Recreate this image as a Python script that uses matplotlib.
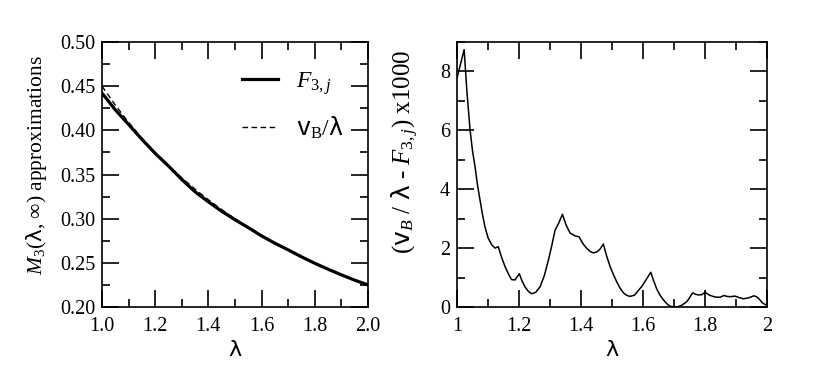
import matplotlib as mpl
mpl.use('Agg')
import matplotlib.pyplot as plt
from matplotlib.ticker import MultipleLocator, FormatStrFormatter
import numpy as np

plt.rcParams['font.family'] = ['Liberation Serif', 'DejaVu Serif']
plt.rcParams['mathtext.fontset'] = 'custom'
plt.rcParams['mathtext.rm'] = 'Liberation Serif'
plt.rcParams['mathtext.it'] = 'Liberation Serif:italic'
plt.rcParams['mathtext.sf'] = 'DejaVu Sans'

# left panel: M3 approximations
lam = [1.00, 1.05, 1.10, 1.15, 1.20, 1.25, 1.30, 1.35, 1.40, 1.45, 1.50,
       1.55, 1.60, 1.65, 1.70, 1.75, 1.80, 1.85, 1.90, 1.95, 2.00]
nu_over_lam = [0.4500, 0.4286, 0.4091, 0.3913, 0.3750, 0.3600, 0.3462, 0.3333,
               0.3214, 0.3103, 0.3000, 0.2903, 0.2813, 0.2727, 0.2647, 0.2571,
               0.2500, 0.2432, 0.2368, 0.2308, 0.2250]
f3j = [0.4422, 0.4233, 0.4067, 0.3898, 0.3739, 0.3596, 0.3444, 0.3304,
       0.3191, 0.3084, 0.2988, 0.2899, 0.2805, 0.2722, 0.2647, 0.2568,
       0.2495, 0.2428, 0.2364, 0.2304, 0.2250]

# right panel: difference x1000
d_lam = [1.000, 1.023, 1.032, 1.042, 1.050, 1.058, 1.066, 1.074, 1.082, 1.090,
         1.100, 1.112, 1.123, 1.133, 1.144, 1.155, 1.166, 1.176, 1.187, 1.201,
         1.210, 1.219, 1.230, 1.241, 1.254, 1.268, 1.282, 1.295, 1.306, 1.316,
         1.328, 1.340, 1.352, 1.365, 1.380, 1.394, 1.406, 1.418, 1.430, 1.440,
         1.451, 1.461, 1.472, 1.483, 1.494, 1.505, 1.515, 1.526, 1.537, 1.547,
         1.558, 1.572, 1.585, 1.596, 1.606, 1.625, 1.634, 1.644, 1.655, 1.666,
         1.677, 1.687, 1.700, 1.712, 1.725, 1.741, 1.750, 1.760, 1.770, 1.780,
         1.790, 1.800, 1.815, 1.832, 1.848, 1.861, 1.871, 1.881, 1.897, 1.910,
         1.924, 1.940, 1.958, 1.966, 1.975, 1.985, 2.000]
diff = [7.78, 8.74, 7.30, 6.02, 5.30, 4.77, 4.15, 3.64, 3.15, 2.73,
        2.35, 2.11, 2.00, 2.05, 1.68, 1.37, 1.12, 0.93, 0.92, 1.13,
        0.88, 0.69, 0.53, 0.45, 0.50, 0.69, 1.08, 1.60, 2.10, 2.60,
        2.85, 3.15, 2.78, 2.51, 2.42, 2.38, 2.15, 2.00, 1.88, 1.84,
        1.87, 1.96, 2.14, 1.72, 1.37, 1.09, 0.86, 0.64, 0.48, 0.40,
        0.36, 0.40, 0.56, 0.70, 0.86, 1.18, 0.90, 0.62, 0.40, 0.24,
        0.11, 0.03, 0.00, 0.01, 0.06, 0.18, 0.31, 0.48, 0.43, 0.41,
        0.42, 0.50, 0.40, 0.34, 0.33, 0.39, 0.36, 0.35, 0.37, 0.32,
        0.28, 0.31, 0.38, 0.35, 0.27, 0.14, 0.05]

fig = plt.figure(figsize=(8.17, 3.74), dpi=100)
ax1 = fig.add_axes([0.1248, 0.1791, 0.3256, 0.7086])
ax2 = fig.add_axes([0.5594, 0.1791, 0.3794, 0.7086])

ax1.plot(lam, f3j, '-', color='black', lw=2.3, label=r'$F_{3,j}$')
ax1.plot(lam, nu_over_lam, color='black', lw=1.0, linestyle=(0, (4, 2.5)),
         label=r'$\mathsf{v}_{\mathrm{B}}/\mathsf{\lambda}$')
ax1.set_xlim(1.0, 2.0)
ax1.set_ylim(0.20, 0.50)
ax1.xaxis.set_major_locator(MultipleLocator(0.2))
ax1.xaxis.set_minor_locator(MultipleLocator(0.1))
ax1.yaxis.set_major_locator(MultipleLocator(0.05))
ax1.yaxis.set_minor_locator(MultipleLocator(0.025))
ax1.xaxis.set_major_formatter(FormatStrFormatter('%.1f'))
ax1.yaxis.set_major_formatter(FormatStrFormatter('%.2f'))
ax1.set_xlabel('λ', fontsize=16, family='DejaVu Sans', labelpad=3)
ax1.set_ylabel(r'$M_3$($\mathsf{\lambda}$, ∞) approximations', fontsize=15.5)
ax1.yaxis.set_label_coords(-0.2, 0.536)
ax1.legend(loc='upper right', frameon=False, fontsize=17, handlelength=1.5,
           handletextpad=0.8, bbox_to_anchor=(0.99, 0.975), labelspacing=0.75)

ax2.plot(d_lam, diff, '-', color='black', lw=1.1)
ax2.set_xlim(1.0, 2.0)
ax2.set_ylim(0, 9)
ax2.xaxis.set_major_locator(MultipleLocator(0.2))
ax2.xaxis.set_minor_locator(MultipleLocator(0.1))
ax2.yaxis.set_major_locator(MultipleLocator(2))
ax2.yaxis.set_minor_locator(MultipleLocator(1))
ax2.xaxis.set_major_formatter(FormatStrFormatter('%g'))
ax2.set_xlabel('λ', fontsize=16, family='DejaVu Sans', labelpad=3)
ax2.set_ylabel(r'($\mathsf{v}_B$ / $\mathsf{\lambda}$ - $F_{3,j}$) x1000', fontsize=18)
ax2.yaxis.set_label_coords(-0.117, 0.585)

for ax in (ax1, ax2):
    ax.tick_params(which='both', direction='in', top=True, right=True,
                   labelsize=14.5, width=1.2)
    ax.tick_params(which='major', length=12)
    ax.tick_params(which='minor', length=6)
    ax.tick_params(axis='x', pad=7)
    ax.tick_params(axis='y', pad=5)
    for s in ax.spines.values():
        s.set_linewidth(1.2)

fig.savefig('out.png', dpi=100)
